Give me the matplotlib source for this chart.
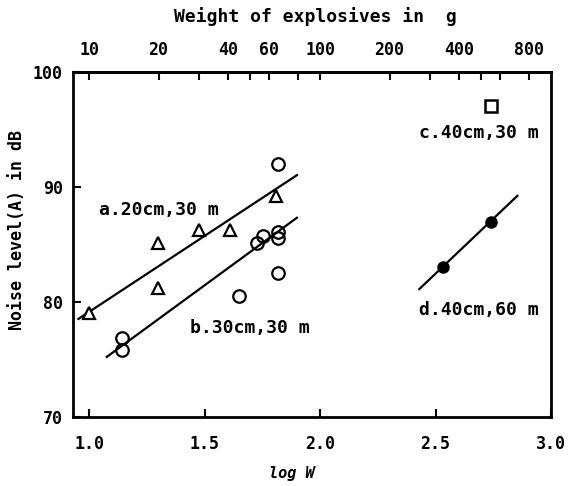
import matplotlib
matplotlib.use("Agg")
import matplotlib.pyplot as plt
import numpy as np

# Data (log W, dB)
a_x = [1.00, 1.30, 1.30, 1.477, 1.61, 1.81]
a_y = [79.0, 85.1, 81.2, 86.2, 86.2, 89.2]
b_x = [1.817, 1.726, 1.755, 1.82, 1.82, 1.817, 1.649, 1.142, 1.142]
b_y = [92.0, 85.1, 85.7, 86.1, 85.5, 82.5, 80.5, 76.8, 75.8]
c_x = [2.74]
c_y = [97.0]
d_x = [2.531, 2.739]
d_y = [83.0, 86.9]
line_a_x = [0.954, 1.90]
line_a_y = [78.5, 91.0]
line_b_x = [1.077, 1.90]
line_b_y = [75.2, 87.3]
line_d_x = [2.43, 2.854]
line_d_y = [81.1, 89.2]

x_ticks = [1.0, 1.5, 2.0, 2.5, 3.0]
x_ticklabels = ["1.0", "1.5", "2.0", "2.5", "3.0"]
y_ticks = [70, 80, 90, 100]
top_ticks_w = [10, 20, 30, 40, 50, 60, 80, 100, 200, 300, 400, 500, 600, 800]
top_labels_w = [10, 20, 40, 60, 100, 200, 400, 800]

font = "DejaVu Sans Mono"
fig = plt.figure(figsize=(5.69, 4.86), dpi=100)
ax = fig.add_axes([0.1276, 0.1426, 0.8408, 0.7099])
ax.set_xlim(0.929, 3.0)
ax.set_ylim(70, 100)

ms = 9
ax.plot(line_a_x, line_a_y, color="black", lw=1.6)
ax.plot(line_b_x, line_b_y, color="black", lw=1.6)
ax.plot(line_d_x, line_d_y, color="black", lw=1.6)
ax.plot(a_x, a_y, linestyle="none", marker="^", ms=ms, mfc="white", mec="black", mew=1.6)
ax.plot(b_x, b_y, linestyle="none", marker="o", ms=ms, mfc="none", mec="black", mew=1.6)
ax.plot(c_x, c_y, linestyle="none", marker="s", ms=8, mfc="white", mec="black", mew=1.8)
ax.plot(d_x, d_y, linestyle="none", marker="o", ms=8, mfc="black", mec="black")

for s in ax.spines.values():
    s.set_linewidth(2)

ax.set_xticks(x_ticks)
ax.set_xticklabels(x_ticklabels, fontfamily=font, fontweight="bold", fontsize=12)
ax.set_yticks(y_ticks)
ax.set_yticklabels([str(v) for v in y_ticks], fontfamily=font, fontweight="bold", fontsize=12)
ax.tick_params(axis="y", direction="in", length=6, width=1.5, pad=7)
ax.tick_params(axis="x", direction="in", length=6, width=1.5, pad=13)

top = ax.secondary_xaxis("top")
top.set_xticks(np.log10(top_ticks_w))
top.set_xticklabels([str(w) if w in top_labels_w else "" for w in top_ticks_w],
                    fontfamily=font, fontweight="bold", fontsize=12)
top.tick_params(direction="in", length=6, width=1.5, pad=9)
top.spines["top"].set_linewidth(2)

fig.text(0.5536, 0.967, "Weight of explosives in  g", fontfamily=font,
         fontweight="bold", fontsize=13, ha="center", va="center")

ax.set_xlabel("log W", fontfamily=font, fontweight="bold", fontstyle="italic",
              fontsize=11)
ax.xaxis.set_label_coords(0.4586, -0.165)
ax.xaxis.label.set_va("center")
ax.set_ylabel("Noise level(A) in dB", fontfamily=font, fontweight="bold",
              fontsize=12)
ax.yaxis.set_label_coords(-0.116, 0.541)
ax.yaxis.label.set_va("center")

tk = dict(fontfamily=font, fontweight="bold", fontsize=13, va="center", ha="left")
ax.text(1.043, 88.0, "a.20cm,30 m", **tk)
ax.text(1.437, 77.7, "b.30cm,30 m", **tk)
ax.text(2.43, 94.7, "c.40cm,30 m", **tk)
ax.text(2.43, 79.3, "d.40cm,60 m", **tk)

fig.savefig("out.png", dpi=100)
